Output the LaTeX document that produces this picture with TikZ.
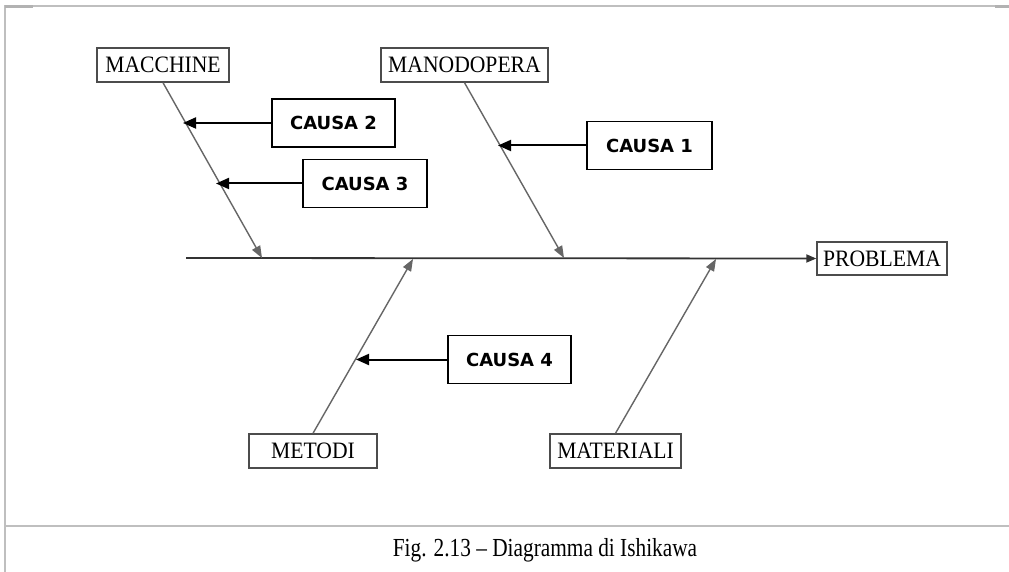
\documentclass[tikz,border=0pt]{standalone}
\usepackage{fontspec}
\setmainfont{Liberation Serif}
\newfontfamily\causefont{DejaVu Sans}
\usetikzlibrary{arrows.meta}

\newcommand{\narrowlabel}[1]{\scalebox{0.92}[1]{#1}}

\tikzset{
  x=1pt, y=-1pt,
  category/.style={draw=black!70, line width=1.4pt, fill=white, inner sep=0pt,
    minimum height=34pt, font=\fontsize{23.5}{24}\selectfont, text=black},
  cause/.style={draw=black, line width=1.8pt, fill=white, inner sep=0pt,
    minimum height=48pt, font=\causefont\bfseries\fontsize{18}{20}\selectfont},
  bone/.style={draw=black!60, line width=1.4pt,
    -{Triangle[length=12pt,width=9pt]}},
  spine/.style={draw=black!80, line width=1.8pt,
    -{Triangle[length=10pt,width=8pt]}},
  feed/.style={draw=black, line width=2pt,
    -{Triangle[length=13pt,width=11pt]}},
  frameline/.style={draw=black!25, line width=2pt},
}

\begin{document}
\begin{tikzpicture}
  % page area
  \useasboundingbox (0,0) rectangle (1009,572);
  \fill[white] (0,0) rectangle (1009,572);

  % page frame and caption rule
  \draw[frameline] (4.5,572) -- (4.5,6.5) -- (1009,6.5);
  \draw[black!30, line width=2.2pt] (4.5,6.5) -- (33,6.5);
  \draw[black!30, line width=2.2pt] (995,6.5) -- (1009,6.5);
  \draw[frameline, line width=2.5pt] (4.5,526) -- (1009,526);

  % category boxes
  \node[category, minimum width=132pt] (mac) at (163,65) {\narrowlabel{MACCHINE}};
  \node[category, minimum width=167pt] (man) at (464.5,65) {\narrowlabel{MANODOPERA}};
  \node[category, minimum width=130pt, minimum height=33pt] (prob) at (882,258.5) {\narrowlabel{PROBLEMA}};
  \node[category, minimum width=128pt] (met) at (313,451) {\narrowlabel{METODI}};
  \node[category, minimum width=131pt] (mat) at (615.5,451) {\narrowlabel{MATERIALI}};

  % cause boxes
  \node[cause, minimum width=125pt] (c1) at (649.5,145.5) {CAUSA 1};
  \node[cause, minimum width=123pt] (c2) at (333.5,123) {CAUSA 2};
  \node[cause, minimum width=124pt] (c3) at (365,183.5) {CAUSA 3};
  \node[cause, minimum width=123pt] (c4) at (509.5,359.5) {CAUSA 4};

  % spine
  \coordinate (tail) at (186,258);
  \draw[spine] (tail) -- (prob.west);

  % points where the bones meet the spine
  \coordinate (jmac) at (262,258);
  \coordinate (jman) at (564,258);
  \coordinate (jmet) at (413,259);
  \coordinate (jmat) at (716,259);

  % bones
  \draw[bone] (mac.south) -- (jmac);
  \draw[bone] (man.south) -- (jman);
  \draw[bone] (met.north) -- (jmet);
  \draw[bone] (mat.north) -- (jmat);

  % points where the causes meet the bones
  \coordinate (k2) at (183,123);
  \coordinate (k3) at (216,183.5);
  \coordinate (k1) at (498,145.5);
  \coordinate (k4) at (356,359.5);

  % cause arrows
  \draw[feed] (c2.west) -- (k2);
  \draw[feed] (c3.west) -- (k3);
  \draw[feed] (c1.west) -- (k1);
  \draw[feed] (c4.west) -- (k4);

  % caption
  \node[font=\fontsize{26}{28}\selectfont] (cap) at (545,550)
    {\scalebox{0.82}[1]{Fig. 2.13 -- Diagramma di Ishikawa}};
\end{tikzpicture}
\end{document}
